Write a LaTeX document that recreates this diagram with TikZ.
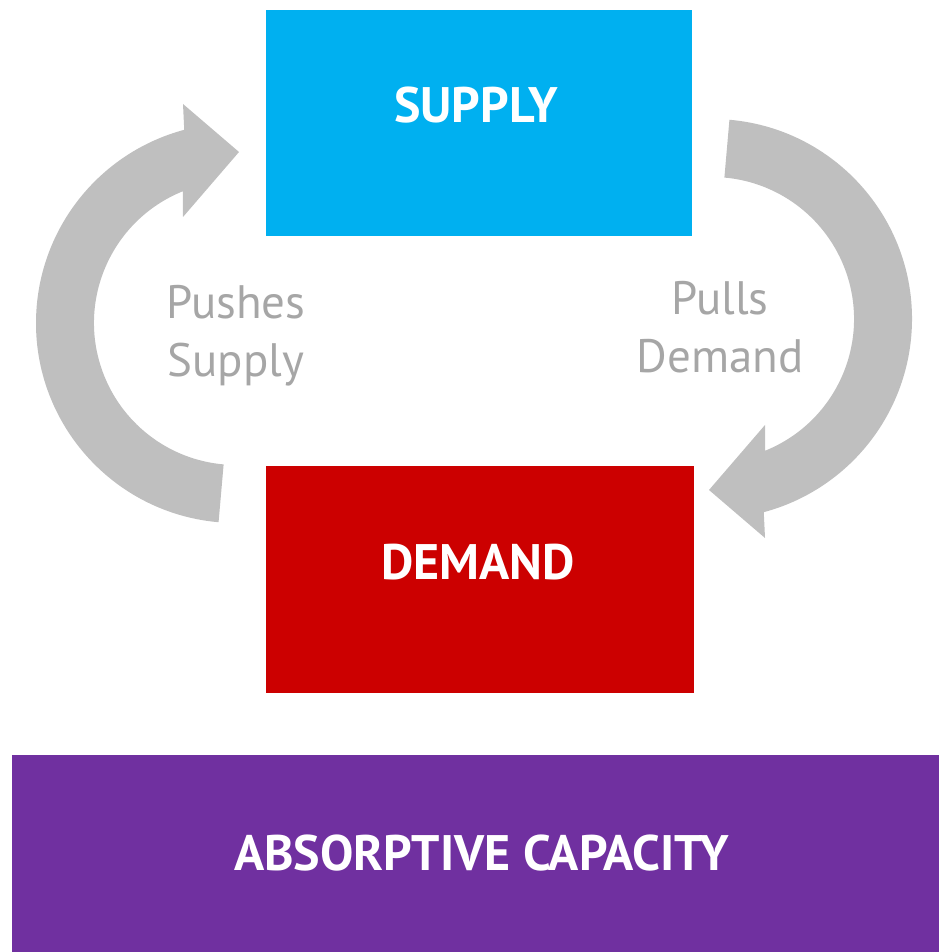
\documentclass[tikz,border=0pt]{standalone}
\usepackage{fontspec}
\setmainfont{PT Sans}

\definecolor{supplyblue}{HTML}{00B0F0}
\definecolor{demandred}{HTML}{CC0000}
\definecolor{capacitypurple}{HTML}{7030A0}
\definecolor{loopgray}{HTML}{BFBFBF}
\definecolor{labelgray}{HTML}{A6A6A6}

\begin{document}
\begin{tikzpicture}[x=0.02cm,y=0.02cm,
  box/.style={rectangle,inner sep=0pt},
  boxtext/.style={text=white,font=\bfseries\fontsize{28.4}{34}\selectfont,anchor=base},
  looptext/.style={text=labelgray,font=\fontsize{26.7}{33.5}\selectfont,align=center,anchor=base}]

  \useasboundingbox (0,0) rectangle (939,952);

  \def\loopshape{(236,629) ++(265:200) arc[start angle=265,end angle=105,radius=200]
    -- (183,848) -- (239,800) -- (183,735) -- (182.8,760.7)
    arc[start angle=112,end angle=265,radius=142] -- cycle}

  \begin{scope}
      \fill[loopgray] \loopshape;
      \fill[loopgray,rotate around={180:(474,631)}] \loopshape;

      \node[box,fill=supplyblue,minimum width=8.52cm,minimum height=4.52cm] (supply) at (479,829) {};
      \node[boxtext,xshift=-0.06cm] (supplylabel) at (supply.center) {SUPPLY};

      \node[box,fill=demandred,minimum width=8.56cm,minimum height=4.54cm] (demand) at (480,372.5) {};
      \node[boxtext,xshift=-0.04cm] (demandlabel) at (demand.center) {DEMAND};

      \node[box,fill=capacitypurple,minimum width=18.54cm,minimum height=3.94cm] (capacity) at (475.5,98.5) {};
      \node[boxtext,anchor=center,xshift=0.12cm] (capacitylabel) at (capacity.center) {ABSORPTIVE CAPACITY};

      \node[looptext] (pushes) at (236,575) {Pushes\\Supply};
      \node[looptext] (pulls) at (720,579) {Pulls\\Demand};
  \end{scope}

\end{tikzpicture}
\end{document}
